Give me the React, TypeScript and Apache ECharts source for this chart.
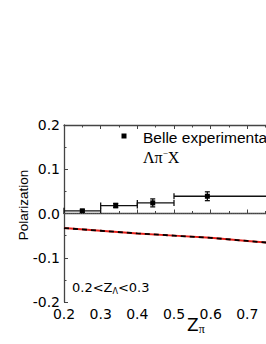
import React, { useEffect, useRef } from "react";
import * as echarts from "echarts";

// ---- data ----
const binLo = [0.2, 0.3, 0.4, 0.5];
const binHi = [0.3, 0.4, 0.5, 1.0];
const zMean = [0.25, 0.341, 0.442, 0.591];
const polValues = [0.006, 0.018, 0.024, 0.039];
const polErrors = [0.003, 0.005, 0.009, 0.010];

const theoryZ = [0.2, 0.3, 0.4, 0.5, 0.6, 0.7, 0.8];
const theoryP = [-0.033, -0.039, -0.045, -0.05, -0.055, -0.062, -0.069];

const yTicks = ["-0.2", "-0.1", "0.0", "0.1", "0.2"];
const xTicks = ["0.2", "0.3", "0.4", "0.5", "0.6", "0.7", ""];

const SANS = "DejaVu Sans";
const AXIS = "#444";

export default function App() {
  const ref = useRef<HTMLDivElement>(null);
  useEffect(() => {
    if (!ref.current) return;
    const chart = echarts.init(ref.current, null, { renderer: "svg" });
    const expData = binLo.map((lo, i) => [lo, binHi[i], zMean[i], polValues[i], polErrors[i]]);
    const theory = theoryZ.map((z, i) => [z, theoryP[i]]);
    const tickStyle = {
      axisLine: { show: true, lineStyle: { color: AXIS, width: 1.3 } },
      axisTick: { show: true, inside: true, length: 4, lineStyle: { color: AXIS, width: 1 } },
      minorTick: { show: true, splitNumber: 2, length: 2.5, lineStyle: { color: AXIS, width: 1 } },
      splitLine: { show: false },
    };
    chart.setOption({
      animation: false,
      grid: {
        left: 64,
        top: 125,
        bottom: 42,
        right: -18,
        containLabel: false,
        outerBoundsMode: "none",
      },
      xAxis: [
        {
          type: "value",
          min: 0.2,
          max: 0.8,
          interval: 0.1,
          position: "bottom",
          ...tickStyle,
          axisLabel: {
            color: "#000",
            fontFamily: SANS,
            fontSize: 14,
            margin: 5,
            formatter: (v: number) => xTicks[Math.round((v - 0.2) * 10)] ?? "",
          },
        },
        {
          type: "value",
          min: 0.2,
          max: 0.8,
          interval: 0.1,
          position: "top",
          ...tickStyle,
          axisLabel: { show: false },
        },
      ],
      yAxis: {
        type: "value",
        min: -0.2,
        max: 0.2,
        interval: 0.1,
        ...tickStyle,
        axisLabel: {
          color: "#000",
          fontFamily: SANS,
          fontSize: 14,
          margin: 4,
          formatter: (v: number) => yTicks[Math.round((v + 0.2) * 10)] ?? "",
        },
      },
      series: [
        {
          type: "line",
          data: theory,
          showSymbol: false,
          lineStyle: { color: "#e8201a", width: 2 },
          markLine: {
            silent: true,
            symbol: "none",
            label: { show: false },
            lineStyle: { type: "dotted", color: "#555", width: 1 },
            data: [{ yAxis: 0 }],
          },
        },
        {
          type: "line",
          data: theory,
          showSymbol: false,
          lineStyle: { color: "#000", width: 1.8, type: [5, 4] },
        },
        {
          type: "custom",
          data: expData,
          clip: false,
          encode: { x: 2, y: 3 },
          renderItem: (params: any, api: any) => {
            const p = api.value(3);
            const e = api.value(4);
            const lo = api.coord([api.value(0), p]);
            const hi = api.coord([api.value(1), p]);
            const c = api.coord([api.value(2), p]);
            const t = api.coord([api.value(2), p + e]);
            const b = api.coord([api.value(2), p - e]);
            const st = { stroke: "#111", lineWidth: 1.3, fill: null };
            const ln = (x1: number, y1: number, x2: number, y2: number) => ({
              type: "line",
              shape: { x1, y1, x2, y2 },
              style: st,
            });
            return {
              type: "group",
              children: [
                ln(lo[0], lo[1], hi[0], hi[1]),
                ln(lo[0], lo[1] - 3, lo[0], lo[1] + 3),
                ln(hi[0], hi[1] - 3, hi[0], hi[1] + 3),
                ln(t[0], t[1], b[0], b[1]),
                ln(t[0] - 2.5, t[1], t[0] + 2.5, t[1]),
                ln(b[0] - 2.5, b[1], b[0] + 2.5, b[1]),
                {
                  type: "rect",
                  shape: { x: c[0] - 2.5, y: c[1] - 2.5, width: 5, height: 5 },
                  style: { fill: "#000" },
                },
              ],
            };
          },
        },
      ],
      graphic: [
        {
          type: "text",
          x: 23,
          y: 205,
          rotation: Math.PI / 2,
          style: {
            text: "Polarization",
            fontFamily: "Liberation Sans",
            fontSize: 13.5,
            fill: "#000",
            align: "center",
            verticalAlign: "middle",
          },
        },
        {
          type: "rect",
          shape: { x: 121.5, y: 133.5, width: 5, height: 5 },
          style: { fill: "#000" },
        },
        {
          type: "text",
          x: 143,
          y: 137,
          style: {
            text: "Belle experimental data",
            fontFamily: "Liberation Sans",
            fontSize: 15.5,
            fill: "#000",
            align: "left",
            verticalAlign: "middle",
          },
        },
        {
          type: "text",
          x: 143,
          y: 157,
          style: {
            text: "{a|Λπ}{s|−}{a|X}",
            align: "left",
            verticalAlign: "middle",
            rich: {
              a: { fontFamily: "Liberation Serif", fontSize: 16, fill: "#000", lineHeight: 17 },
              s: { fontFamily: "Liberation Serif", fontSize: 9, fill: "#000", lineHeight: 9, padding: [0, 0, 8, 0] },
            },
          },
        },
        {
          type: "text",
          x: 72,
          y: 287,
          style: {
            text: "{a|0.2<Z}{s|Λ}{a|<0.3}",
            align: "left",
            verticalAlign: "middle",
            rich: {
              a: { fontFamily: SANS, fontSize: 13, fill: "#000", lineHeight: 15 },
              s: { fontFamily: SANS, fontSize: 8, fill: "#000", lineHeight: 8, padding: [9, 0, 0, 0] },
            },
          },
        },
        {
          type: "text",
          x: 187,
          y: 325,
          style: {
            text: "{a|Z}{s|π}",
            align: "left",
            verticalAlign: "middle",
            rich: {
              a: { fontFamily: SANS, fontSize: 17, fill: "#000", lineHeight: 18 },
              s: { fontFamily: "Liberation Serif", fontSize: 12, fill: "#000", lineHeight: 12, padding: [8, 0, 0, 0] },
            },
          },
        },
      ],
    });
    return () => chart.dispose();
  }, []);
  return (
    <div
      ref={ref}
      style={{ position: "absolute", left: 0, top: 0, width: 266, height: 344, background: "#fff" }}
    />
  );
}
